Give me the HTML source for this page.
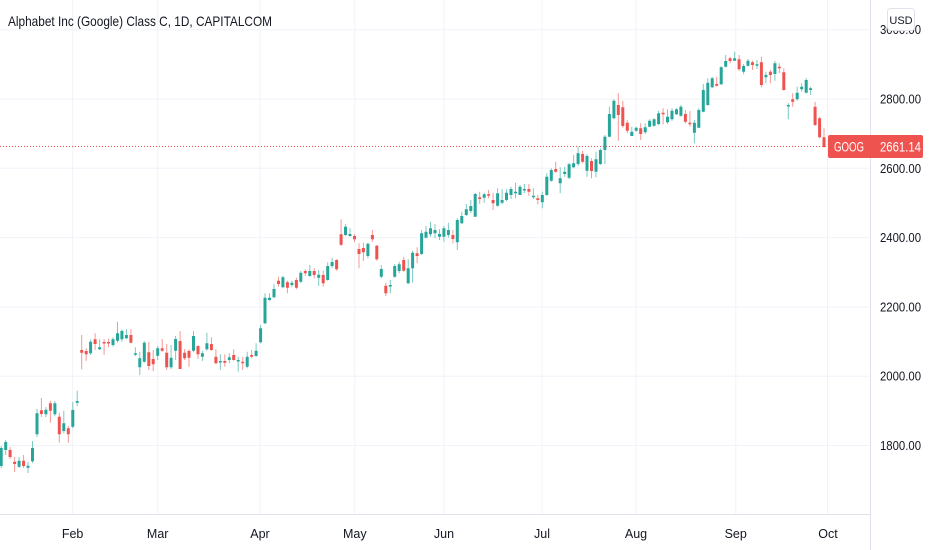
<!DOCTYPE html>
<html>
<head>
<meta charset="utf-8">
<style>
  html,body{margin:0;padding:0;background:#ffffff;}
  svg{display:block;}
  text{font-family:"Liberation Sans",sans-serif;}
</style>
</head>
<body>
<svg width="932" height="550" viewBox="0 0 932 550" xmlns="http://www.w3.org/2000/svg">
  <rect x="0" y="0" width="932" height="550" fill="#ffffff"/>
  <!-- grid -->
  <g stroke="#f0f3fa" stroke-width="1" fill="none">
    <path d="M0 29.7H870M0 99H870M0 168.3H870M0 237.6H870M0 306.9H870M0 376.2H870M0 445.5H870"/>
    <path d="M72.6 0V514M157.7 0V514M260 0V514M354.8 0V514M444 0V514M542 0V514M636 0V514M735.7 0V514M827.5 0V514"/>
  </g>
  <!-- axes borders -->
  <path d="M870.5 0V550M0 514.5H870.5" stroke="#e0e3eb" stroke-width="1" fill="none"/>

  <!-- green wicks -->
  <path stroke="#26a69a" stroke-opacity="0.6" stroke-width="1" fill="none" d="M1.2 446V468M5.7 440V455M19.1 457V468M28 462V473M32.5 441V463M37 409V437M45.9 407V417M54.9 401V416M63.8 410.7V433.3M72.8 402V428.3M77.2 390.7V406M90.6 339.3V355M99.6 339.3V350M113 337.3V346.7M117.5 321.7V342.7M121.9 329.3V341.7M126.4 329.3V339.3M135.4 347.3V356M139.8 351.7V375M144.3 341V362.7M157.7 346V360M171.1 345V369M175.6 336V360M193.5 331V352.3M202.4 350.7V361M206.9 332.7V350.7M220.3 354.3V370M229.3 353.3V363.3M238.2 356.7V371.7M247.2 351.7V368.3M256.1 343.3V356.7M260.6 325V343.3M265 293.3V324M269.5 293.3V300.7M274 284V298.3M282.9 275.7V288.3M291.9 280.7V287.3M300.8 271V283.3M309.8 265V276.7M318.7 270V286M327.7 262.3V280.7M332.1 257.7V268.3M345.5 224.3V236M350 228.3V236.7M367.9 242.7V258.3M381.3 265V278.3M390.3 280V293.3M394.7 264V277.7M399.2 261.7V273.3M408.2 259.3V284M412.6 250.7V282.7M421.6 230V255M426 226V238.3M430.5 221.7V236.7M435 224V238.3M439.5 229.3V240M443.9 226V241.7M448.4 222.7V237.7M457.3 218.3V250M461.8 211.7V224M466.3 204V216M470.8 200V213.3M475.2 192.7V216.7M484.2 192.7V202.7M497.6 188.3V206.7M502.1 189.3V204M506.5 189.3V201M511 186.7V199M515.5 182.7V198.3M520 185V195M524.4 184V193.3M533.4 188.3V199M542.3 191.7V208.3M546.8 173.3V195.7M551.3 168.3V181.7M560.2 167.3V193.3M564.7 166.7V176.7M569.1 162.7V179.3M573.6 155V168.3M578.1 146.7V166M587 154V176.7M596 151.7V177.3M600.4 148.3V165M604.9 135V164M609.4 106.7V137.3M613.9 99.3V119.3M631.8 126.7V136M636.2 126.7V131.7M645.2 123.3V134M649.6 119.3V127.3M654.1 118.3V126.7M658.6 110.7V125M667.5 109.3V124M672 108.3V120.7M676.5 108.3V115M680.9 105V116.7M694.4 120V143.3M698.8 108.3V128.3M703.3 84V112.3M707.8 78.3V105.7M712.2 76.7V88.3M721.2 66V85M725.7 55V67.3M734.6 51.7V61M743.6 64V74.3M748 59V66.7M757 60V69M765.9 71.7V83.3M774.9 60.7V80.7M788.3 103.3V119.3M797.2 86.7V100.7M801.7 83.3V91.7M806.2 78.3V93.3M810.6 86.7V95"/>

  <!-- red wicks -->
  <path stroke="#ef5350" stroke-opacity="0.6" stroke-width="1" fill="none" d="M10.1 447V459M14.6 457V472M23.6 455V468M41.4 398V417M50.4 400.7V422.7M59.3 412.7V442.7M68.3 426V442.7M81.7 335V369.3M86.2 348.3V360.7M95.1 333.3V350M104.1 339.3V355M108.5 338.7V347.3M130.9 329.3V343.3M148.8 341.7V370M153.2 350V371M162.2 339V351.7M166.7 344V370M180.1 331V369M184.6 349.3V360M189 349.3V366.7M198 345V359M211.4 337.3V350.7M215.9 349.3V364M224.8 354.3V366.7M233.7 349.3V360.7M242.7 356.7V370M251.6 350V358.3M278.5 276.7V286.7M287.4 280.7V293.3M296.4 277.7V289.3M305.3 269.3V276M314.2 268.3V278.3M323.2 270.7V286.7M336.6 259.3V270.7M341.1 219.3V246M354.5 234.3V242.3M359 243.3V268.3M363.4 242.7V260.7M372.4 230V241.7M376.8 245V260.7M385.8 282.7V296M403.7 256.7V271.7M417.1 247.3V263.3M452.9 230V243.3M479.7 191.7V204M488.6 190V198.3M493.1 192.7V210M528.9 184V195.7M537.8 195V204.3M555.7 161.7V172.7M582.6 150.7V163.3M591.5 158.3V178.3M618.3 93.3V140.7M622.8 100.7V127.7M627.3 120V133.3M640.7 123.3V140M663.1 108.3V124.3M685.4 110V123.3M689.9 111V126.7M716.7 76.7V86.7M730.1 56.7V63.3M739.1 55V70.7M752.5 60.7V70M761.4 56.7V87.3M770.4 70V83.3M779.3 63.3V73.3M783.8 68.3V90.7M792.7 93.3V106.7M815.1 101.7V126M819.6 116.7V138.3M824 128.3V147.7"/>

  <!-- green bodies -->
  <path stroke="#26a69a" stroke-width="3" fill="none" d="M1.2 448V466M5.7 442V450M19.1 460.7V466.7M28 465.7V467.7M32.5 448V461.3M37 413.3V434.3M45.9 409.7V414.3M54.9 403.3V414.3M63.8 423.3V431M72.8 410V426.7M77.2 401V402.7M90.6 341.7V353.3M99.6 347.3V349.3M113 339.3V345M117.5 333.3V340.7M121.9 331V339.3M126.4 335V338.3M135.4 353.3V354.7M139.8 358.3V367.3M144.3 342.7V361.7M157.7 348.3V355.7M171.1 357.7V367.3M175.6 339V350.7M193.5 336V350.7M202.4 353.3V356.7M206.9 343.3V349.3M220.3 361V362.5M229.3 357.3V360M238.2 360V361.5M247.2 356.7V366.7M256.1 350.7V356M260.6 328.3V342.3M265 297.7V323.3M269.5 297.7V300M274 289V297.3M282.9 277.3V287.3M291.9 282.7V285M300.8 272.7V281.7M309.8 271V276M318.7 274.7V277.7M327.7 266V280M332.1 262V266M345.5 226.7V235M350 234V236M367.9 243.7V256M381.3 269V276.7M390.3 285V286.5M394.7 266V276.7M399.2 264.3V271M408.2 268.3V283.3M412.6 252.7V268.3M421.6 233.3V254M426 231.7V237.7M430.5 228.3V234.3M435 230V233.3M439.5 234V236.7M443.9 228.3V236.7M448.4 230V235M457.3 220V242.3M461.8 216V223.3M466.3 209.3V215M470.8 206V211M475.2 194V216.7M484.2 194.3V197.7M497.6 193.3V205.7M502.1 200V202.7M506.5 192.7V200M511 189V195M515.5 191.7V193.2M520 186.7V195M524.4 189V190.5M533.4 195.7V197.2M542.3 195V202.3M546.8 176.7V195M551.3 170V180.7M560.2 178.3V183.3M564.7 171.7V174M569.1 164.3V177.7M573.6 163.3V167.3M578.1 153.3V164M587 156V170.7M596 159.3V171.7M600.4 150V164M604.9 136.7V150M609.4 114V136.7M613.9 100.7V118.3M631.8 131.7V136M636.2 127.7V130.7M645.2 127.3V132.3M649.6 120.7V126.7M654.1 119.3V125.7M658.6 113.3V124M667.5 116.7V122.3M672 110.7V119.3M676.5 109.3V114.3M680.9 106.7V115.7M694.4 122.7V132.7M698.8 110V127.7M703.3 90V111.7M707.8 82.7V105M712.2 78.3V87.3M721.2 67.3V84.3M725.7 61V66.7M734.6 58.3V60.7M743.6 66V71.7M748 60.7V65.7M757 64.3V65.8M765.9 75V77.3M774.9 63.3V74M788.3 105V106.5M797.2 92.7V99.3M801.7 86.7V89.3M806.2 80V92.7M810.6 88.3V90"/>

  <!-- red bodies -->
  <path stroke="#ef5350" stroke-width="3" fill="none" d="M10.1 450V457M14.6 461.7V464M23.6 460.7V466M41.4 410.3V414M50.4 403.3V410.7M59.3 416.7V434.3M68.3 428.3V434.3M81.7 350V352.7M86.2 351V354.3M95.1 339.3V344M104.1 342V343.5M108.5 342V343.5M130.9 335V342.7M148.8 352.3V366M153.2 359V364.3M162.2 348.3V350.7M166.7 352.7V367.3M180.1 341V369M184.6 352.7V358.3M189 351V357.7M198 346V354.3M211.4 344V350M215.9 356.7V363.3M224.8 361V362.7M233.7 355V360M242.7 361.7V363.3M251.6 355V356.7M278.5 280.7V284M287.4 282.3V287.7M296.4 280V287.7M305.3 271V273.3M314.2 271V275M323.2 275V283.3M336.6 260V269.3M341.1 234.3V244.7M354.5 236V239.3M359 249V254M363.4 248V252.3M372.4 235V239.3M376.8 245.7V259.3M385.8 285.7V293.3M403.7 260V270.7M417.1 253.3V256M452.9 235V239M479.7 197.3V199M488.6 194.3V195.8M493.1 200V203.3M528.9 189V191.7M537.8 198.3V200M555.7 169V171.7M582.6 154V161.7M591.5 161V171M618.3 105V115M622.8 107.3V126M627.3 122.7V130.7M640.7 128.3V134M663.1 112.7V114.2M685.4 114V121.7M689.9 122.7V124.3M716.7 84V85.7M730.1 58.3V61M739.1 59.3V69.3M752.5 62.3V65M761.4 62.3V85M770.4 71.7V75M779.3 66.7V68.3M783.8 72.3V90M792.7 99.3V101.7M815.1 106.7V125M819.6 118.3V137.3M824 137.3V147"/>

  <!-- current price dotted line -->
  <path d="M0 146.5H828" stroke="#ef5350" stroke-width="1" stroke-dasharray="1 2" fill="none"/>

  <!-- title -->
  <text x="8" y="26" font-size="14" fill="#131722" textLength="264" lengthAdjust="spacingAndGlyphs">Alphabet Inc (Google) Class C, 1D, CAPITALCOM</text>

  <!-- price axis labels -->
  <g font-size="12.5" fill="#131722">
    <text x="880" y="34.2" textLength="41" lengthAdjust="spacingAndGlyphs">3000.00</text>
    <text x="880" y="103.5" textLength="41" lengthAdjust="spacingAndGlyphs">2800.00</text>
    <text x="880" y="172.8" textLength="41" lengthAdjust="spacingAndGlyphs">2600.00</text>
    <text x="880" y="242.1" textLength="41" lengthAdjust="spacingAndGlyphs">2400.00</text>
    <text x="880" y="311.4" textLength="41" lengthAdjust="spacingAndGlyphs">2200.00</text>
    <text x="880" y="380.7" textLength="41" lengthAdjust="spacingAndGlyphs">2000.00</text>
    <text x="880" y="450" textLength="41" lengthAdjust="spacingAndGlyphs">1800.00</text>
  </g>

  <!-- USD box -->
  <rect x="887.5" y="8.5" width="27" height="22" rx="3" fill="#ffffff" stroke="#e0e3eb" stroke-width="1"/>
  <text x="901" y="24" font-size="11" fill="#131722" text-anchor="middle">USD</text>

  <!-- price tag -->
  <rect x="828" y="135" width="95" height="23" rx="2" fill="#ef5350"/>
  <text x="834" y="151.5" font-size="13.5" fill="#ffffff" textLength="30" lengthAdjust="spacingAndGlyphs">GOOG</text>
  <text x="880" y="151.5" font-size="13.5" fill="#ffffff" textLength="41" lengthAdjust="spacingAndGlyphs">2661.14</text>

  <!-- time axis labels -->
  <g font-size="12.5" fill="#131722" text-anchor="middle">
    <text x="72.6" y="538">Feb</text>
    <text x="157.7" y="538">Mar</text>
    <text x="260" y="538">Apr</text>
    <text x="354.8" y="538">May</text>
    <text x="444" y="538">Jun</text>
    <text x="542" y="538">Jul</text>
    <text x="636" y="538">Aug</text>
    <text x="735.7" y="538">Sep</text>
    <text x="828" y="538">Oct</text>
  </g>
</svg>
</body>
</html>
